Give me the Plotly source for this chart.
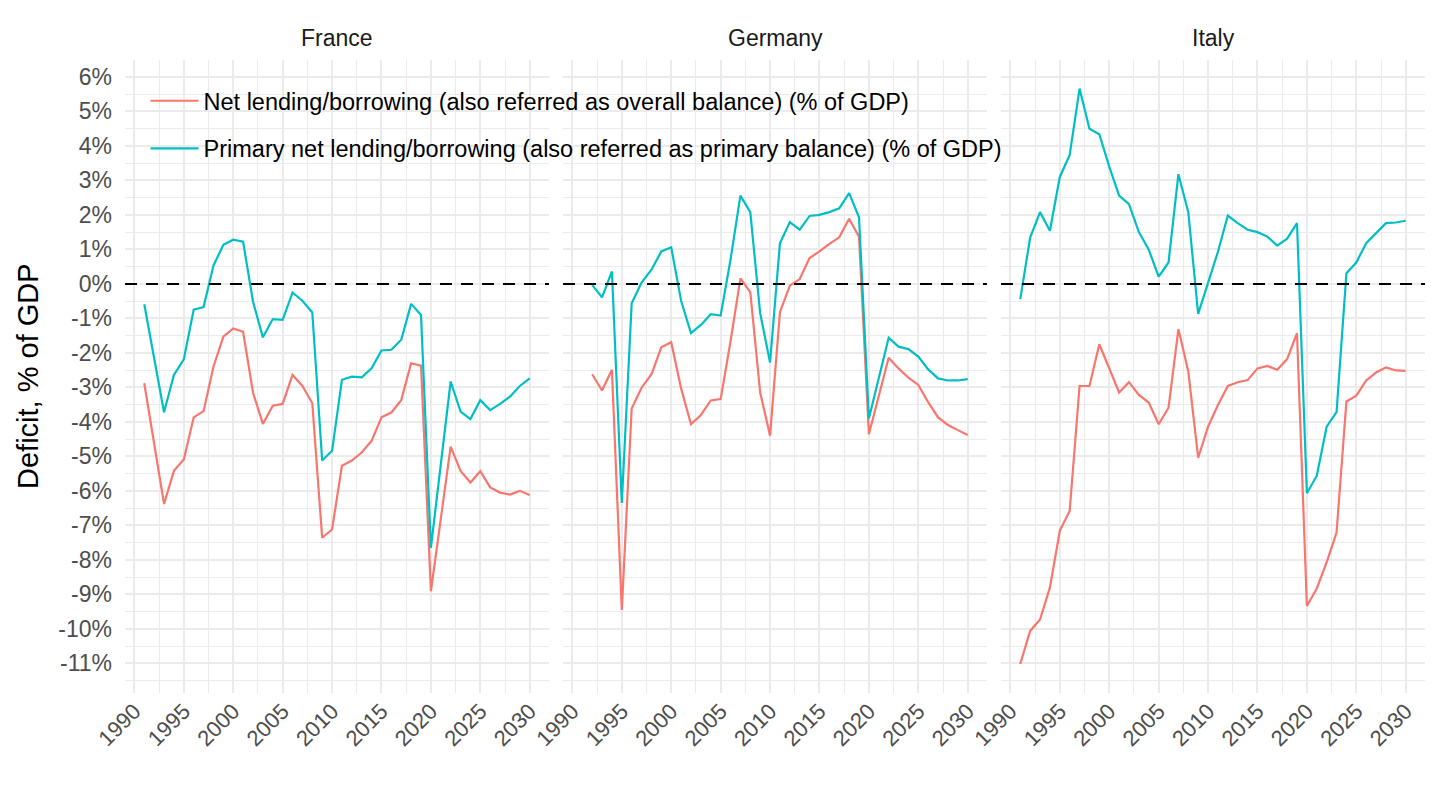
import plotly.graph_objects as go
from plotly.subplots import make_subplots

# Values (% of GDP)
countries = ["France", "Germany", "Italy"]
series_names = [
    "Net lending/borrowing (also referred as overall balance) (% of GDP)",
    "Primary net lending/borrowing (also referred as primary balance) (% of GDP)",
]
series_colors = ["#F8766D", "#00BFC4"]

years_france = list(range(1991, 2031))
france_net = [
    -2.88, -4.65, -6.38, -5.42, -5.09, -3.87, -3.69, -2.40, -1.53, -1.29,
    -1.39, -3.15, -4.06, -3.53, -3.48, -2.64, -2.96, -3.46, -7.36, -7.12,
    -5.27, -5.12, -4.89, -4.55, -3.87, -3.73, -3.37, -2.30, -2.37, -8.91,
    -6.80, -4.72, -5.42, -5.76, -5.43, -5.90, -6.05, -6.11, -6.00, -6.12,
]
france_primary = [
    -0.59, -2.15, -3.72, -2.64, -2.19, -0.75, -0.67, 0.53, 1.13, 1.28,
    1.22, -0.51, -1.55, -1.02, -1.04, -0.25, -0.49, -0.83, -5.12, -4.84,
    -2.78, -2.69, -2.71, -2.45, -1.93, -1.91, -1.62, -0.58, -0.90, -7.65,
    -5.25, -2.83, -3.70, -3.92, -3.37, -3.66, -3.48, -3.27, -2.96, -2.74,
]

years_germany = list(range(1992, 2031))
germany_net = [
    -2.62, -3.09, -2.49, -9.45, -3.61, -3.01, -2.62, -1.84, -1.69,
    -3.03, -4.07, -3.80, -3.38, -3.34, -1.67, 0.16, -0.24, -3.15, -4.40,
    -0.82, -0.05, 0.14, 0.75, 0.94, 1.16, 1.35, 1.89, 1.37, -4.36,
    -3.27, -2.14, -2.45, -2.72, -2.93, -3.43, -3.87, -4.09, -4.24, -4.38,
]
germany_primary = [
    -0.03, -0.39, 0.36, -6.35, -0.56, 0.04, 0.41, 0.94, 1.06,
    -0.49, -1.43, -1.19, -0.88, -0.92, 0.70, 2.56, 2.08, -0.85, -2.28,
    1.18, 1.79, 1.57, 1.97, 2.00, 2.08, 2.19, 2.63, 1.93, -3.90,
    -2.74, -1.56, -1.82, -1.89, -2.11, -2.48, -2.74, -2.80, -2.80, -2.76,
]

years_italy = list(range(1991, 2031))
italy_net = [
    -11.02, -10.06, -9.73, -8.80, -7.16, -6.58, -2.96, -2.96, -1.75, -2.45,
    -3.15, -2.85, -3.22, -3.44, -4.07, -3.59, -1.31, -2.54, -5.04, -4.14,
    -3.51, -2.96, -2.85, -2.79, -2.45, -2.38, -2.49, -2.18, -1.43, -9.34,
    -8.83, -8.07, -7.21, -3.41, -3.24, -2.80, -2.57, -2.42, -2.51, -2.52,
]
italy_primary = [
    -0.44, 1.34, 2.08, 1.54, 3.10, 3.74, 5.66, 4.50, 4.34, 3.40,
    2.56, 2.31, 1.50, 0.99, 0.21, 0.62, 3.18, 2.08, -0.87, 0.00,
    0.93, 1.98, 1.76, 1.57, 1.50, 1.37, 1.11, 1.31, 1.76, -6.07,
    -5.56, -4.14, -3.72, 0.31, 0.62, 1.18, 1.47, 1.76, 1.78, 1.83,
]

y_tick_values = [-11, -10, -9, -8, -7, -6, -5, -4, -3, -2, -1, 0, 1, 2, 3, 4, 5, 6]
y_tick_labels = ["-11%", "-10%", "-9%", "-8%", "-7%", "-6%", "-5%", "-4%", "-3%",
                 "-2%", "-1%", "0%", "1%", "2%", "3%", "4%", "5%", "6%"]
x_tick_values = [1990, 1995, 2000, 2005, 2010, 2015, 2020, 2025, 2030]

panel_data = [
    (years_france, france_net, france_primary),
    (years_germany, germany_net, germany_primary),
    (years_italy, italy_net, italy_primary),
]

FONT = "Liberation Sans, Arial, Helvetica, sans-serif"
GRID = "#EBEBEB"

fig = make_subplots(rows=1, cols=3, shared_yaxes=True, horizontal_spacing=14 / 1300)

for col, (years, net, primary) in enumerate(panel_data, start=1):
    for k, values in enumerate([net, primary]):
        fig.add_trace(
            go.Scatter(
                x=years,
                y=values,
                mode="lines",
                name=series_names[k],
                legendgroup=f"g{k}",
                showlegend=(col == 1),
                line=dict(color=series_colors[k], width=2.2),
            ),
            row=1,
            col=col,
        )
    # dashed zero line across the panel
    xref = "x" if col == 1 else f"x{col}"
    yref = "y" if col == 1 else f"y{col}"
    fig.add_shape(
        type="line",
        xref=f"{xref} domain",
        yref=yref,
        x0=0,
        x1=1,
        y0=0,
        y1=0,
        line=dict(color="black", width=2, dash="12px,9px"),
    )
    # facet title
    domain = fig.layout[f"xaxis{'' if col == 1 else col}"].domain
    fig.add_annotation(
        text=countries[col - 1],
        xref="paper",
        yref="paper",
        x=(domain[0] + domain[1]) / 2,
        y=1.035,
        xanchor="center",
        yanchor="middle",
        showarrow=False,
        font=dict(family=FONT, size=23, color="#1A1A1A"),
    )

fig.update_xaxes(
    range=[1989.05, 2031.95],
    tickvals=x_tick_values,
    tickangle=-45,
    showgrid=True,
    gridcolor=GRID,
    gridwidth=2,
    zeroline=False,
    showline=False,
    ticks="",
    tickfont=dict(family=FONT, size=22, color="#4D4D4D"),
    minor=dict(dtick=2.5, tick0=1990, showgrid=True, gridcolor=GRID, gridwidth=1),
)
fig.update_yaxes(
    range=[-11.86, 6.49],
    tickvals=y_tick_values,
    ticktext=y_tick_labels,
    showgrid=True,
    gridcolor=GRID,
    gridwidth=2,
    zeroline=False,
    showline=False,
    ticks="",
    ticklabelstandoff=12,
    tickfont=dict(family=FONT, size=23, color="#4D4D4D"),
    minor=dict(dtick=0.5, tick0=0, showgrid=True, gridcolor=GRID, gridwidth=1),
)

fig.add_annotation(
    text="Deficit, % of GDP",
    xref="paper",
    yref="paper",
    x=-0.075,
    y=0.5,
    xanchor="center",
    yanchor="middle",
    textangle=-90,
    showarrow=False,
    font=dict(family=FONT, size=29, color="black"),
)

# the page adds an 8px body margin, so margins are shifted by 8px
fig.update_layout(
    width=1440,
    height=810,
    margin=dict(l=117, r=23, t=52, b=125),
    paper_bgcolor="white",
    plot_bgcolor="white",
    font=dict(family=FONT),
    showlegend=True,
    legend=dict(
        x=0.0158,
        y=0.97,
        xanchor="left",
        yanchor="top",
        bgcolor="rgba(0,0,0,0)",
        font=dict(family=FONT, size=23.5, color="black"),
        tracegroupgap=14,
        itemwidth=48,
    ),
)

fig.write_html("out.html")
